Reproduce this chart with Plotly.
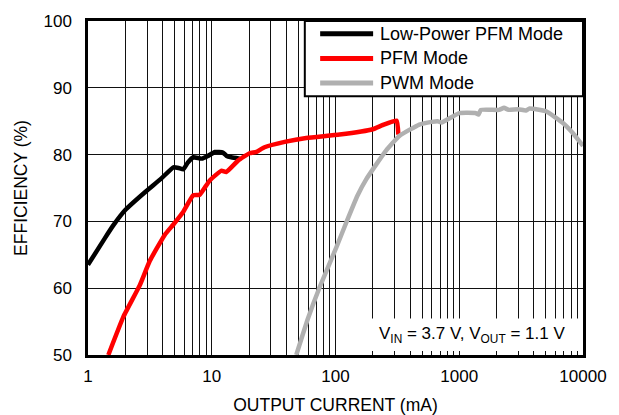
import plotly.graph_objects as go

# ---- data ----
lp_current = [1.0, 1.37, 1.6, 2.0, 2.9, 3.9, 4.9, 5.4, 5.9, 6.4, 7.1, 8.3, 9.3, 10.6, 12.3, 13.2, 14.4, 16.8]
lp_eff = [63.5, 67.5, 69.4, 71.7, 74.4, 76.4, 78.1, 78.0, 77.8, 78.8, 79.6, 79.4, 79.8, 80.4, 80.3, 79.8, 79.6, 79.4]

pfm_current = [1.46, 1.93, 2.63, 3.16, 4.18, 4.88, 5.87, 7.07, 8.0, 9.6, 12.0, 13.1, 16.3,
               20.2, 23.0, 26.7, 38.8, 58.0, 108.0, 200.0, 239.0, 312.0, 322.0]
pfm_eff = [50.0, 55.7, 60.5, 64.1, 68.0, 69.5, 71.4, 73.9, 74.0, 76.1, 77.6, 77.4, 79.1,
           80.2, 80.4, 81.1, 81.9, 82.5, 83.0, 83.8, 84.4, 85.1, 83.0]

pwm_current = [48.2, 60.0, 74.3, 101, 122, 150, 177, 256, 328, 476, 600, 668, 720, 1000, 1362, 1430,
               1496, 2100, 2300, 2500, 3000, 3450, 3700, 5000, 6810, 8200, 10000]
pwm_eff = [50.0, 55.5, 60.1, 66.0, 69.8, 73.8, 76.3, 80.6, 82.8, 84.5, 84.9, 85.0, 84.8, 86.2, 86.2, 86.0,
           86.7, 86.7, 87.0, 86.7, 86.8, 86.6, 86.9, 86.5, 84.8, 83.3, 81.3]

series_names = ["Low-Power PFM Mode", "PFM Mode", "PWM Mode"]
series_colors = ["#000000", "#ff0000", "#b0b0b0"]

x_tick_vals = [1, 10, 100, 1000, 10000]
x_tick_text = ["1", "10", "100", "1000", "10000"]
x_minor_vals = [m * d for d in [1, 10, 100, 1000] for m in range(2, 10)]
y_tick_vals = [50, 60, 70, 80, 90, 100]

FONT = "Arial, 'Liberation Sans', sans-serif"

fig = go.Figure()
for name, xs, ys, col in zip(series_names,
                             [lp_current, pfm_current, pwm_current],
                             [lp_eff, pfm_eff, pwm_eff],
                             series_colors):
    fig.add_trace(go.Scatter(x=xs, y=ys, mode="lines", name=name,
                             line=dict(color=col, width=4.5, shape="spline", smoothing=0.4),
                             showlegend=False))

fig.update_layout(
    width=619, height=415,
    margin=dict(l=88, r=36, t=17, b=60),
    paper_bgcolor="white", plot_bgcolor="white",
    font=dict(family=FONT, size=17, color="black"),
)

fig.update_xaxes(
    type="log", range=[0, 4], automargin=False,
    tickvals=x_tick_vals, ticktext=x_tick_text, ticklabelstandoff=4,
    showgrid=True, gridcolor="#111", gridwidth=1,
    minor=dict(tickvals=x_minor_vals, showgrid=True, gridcolor="#111", gridwidth=1, ticks=""),
    showline=True, linecolor="black", linewidth=2.5, mirror=True,
    ticks="", zeroline=False,
    title=dict(text="OUTPUT CURRENT (mA)", font=dict(size=17.5), standoff=14),
)
fig.update_yaxes(
    range=[50, 100], tickvals=y_tick_vals, ticklabelstandoff=10,
    showgrid=True, gridcolor="#111", gridwidth=1,
    showline=True, linecolor="black", linewidth=2.5, mirror=True,
    ticks="", zeroline=False,
    title=dict(text="EFFICIENCY (%)", font=dict(size=17.5), standoff=12),
)

# legend box (manual)
fig.add_shape(type="rect", xref="paper", yref="paper", x0=0.438, x1=1.0, y0=0.775, y1=1.0,
              fillcolor="white", line=dict(color="black", width=2), layer="above")
rows_y = [0.962, 0.888, 0.814]
for name, col, ry in zip(series_names, series_colors, rows_y):
    fig.add_shape(type="line", xref="paper", yref="paper", x0=0.469, x1=0.576, y0=ry, y1=ry,
                  line=dict(color=col, width=5), layer="above")
    fig.add_annotation(xref="paper", yref="paper", x=0.586, y=ry, text=name, showarrow=False,
                       xanchor="left", yanchor="middle", font=dict(size=18))

# conditions box
fig.add_shape(type="rect", xref="paper", yref="paper", x0=0.549, x1=0.996, y0=0.012, y1=0.109,
              fillcolor="white", line=dict(width=0), layer="above")
fig.add_annotation(xref="paper", yref="paper", x=0.968, y=0.06,
                   text="V<sub>IN</sub> = 3.7 V, V<sub>OUT</sub> = 1.1 V",
                   showarrow=False, xanchor="right", yanchor="middle", font=dict(size=17))

fig.write_html("out.html", config={"displayModeBar": False},
               post_script="document.body.style.margin='0';document.body.style.overflow='hidden';")
